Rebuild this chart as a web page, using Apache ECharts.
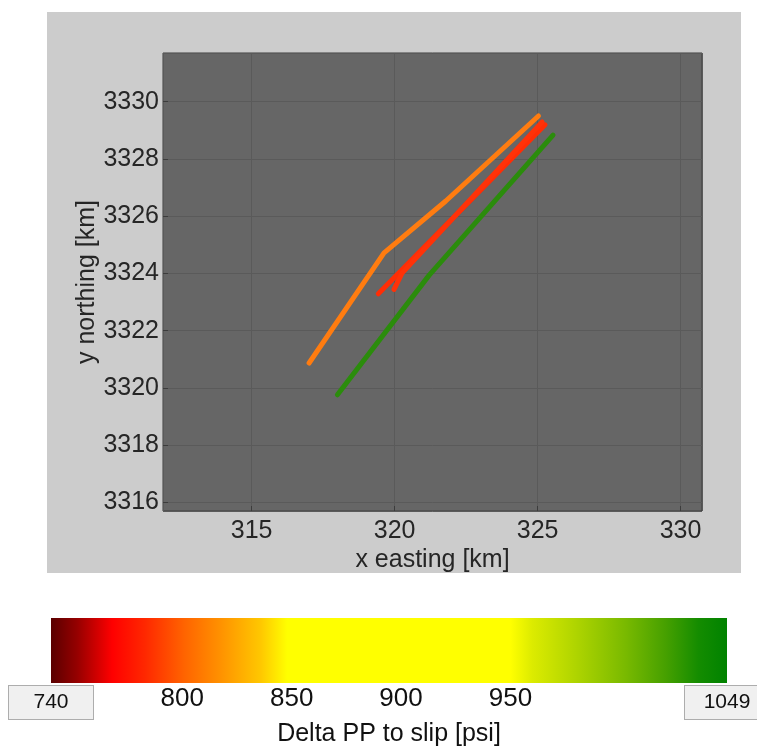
<!DOCTYPE html>
<html>
<head>
<meta charset="utf-8">
<script src="https://cdn.jsdelivr.net/npm/echarts@6/dist/echarts.min.js"></script>
<style>html,body{margin:0;padding:0;background:#fff}#c{width:757px;height:750px}</style>
</head>
<body>
<div id="c"></div>
<script>
// ---- data ----
const xRange = [311.9, 330.75];          // x easting [km]
const yRange = [3315.7, 3331.7];         // y northing [km]
const orangeFault = [[317.01, 3320.87], [319.63, 3324.72], [321.79, 3326.53], [325.03, 3329.50]];
const redFaultA   = [[319.43, 3323.29], [325.26, 3329.19]];
const redFaultB   = [[319.98, 3323.44], [320.26, 3324.01], [325.16, 3329.29]];
const greenFault  = [[318.00, 3319.76], [321.21, 3323.94], [325.54, 3328.83]];
const faultColors = ['#ff7c10', '#ff2d05', '#ff3208', '#2b8c0c'];

// colour bar
const cbarRange = [740, 1049];
const cbarTickLabels = [740, 800, 850, 900, 950, 1049];
const cmapValues = [740, 752, 768, 783, 801, 819, 836, 848, 950, 960, 982, 1003, 1021, 1036, 1049];
const cmapColors = ['#5a0000', '#960000', '#ff0000', '#ff2800', '#ff6400', '#ff9600', '#ffc800', '#ffff00',
                    '#ffff00', '#dceb00', '#aad200', '#78b900', '#46a000', '#148c00', '#008200'];

const FONT = 'Liberation Sans, Arial, sans-serif';
const TXT = '#262626';

const chart = echarts.init(document.getElementById('c'), null, {renderer: 'canvas'});

const stops = cmapValues.map((v, i) => ({
  offset: (v - cbarRange[0]) / (cbarRange[1] - cbarRange[0]),
  color: cmapColors[i]
}));

function faultSeries(data, color) {
  return {
    type: 'line', xAxisIndex: 0, yAxisIndex: 0, data: data,
    showSymbol: false, symbol: 'none', animation: false, silent: true,
    lineStyle: {color: color, width: 5, cap: 'round', join: 'round'}
  };
}

const option = {
  animation: false,
  backgroundColor: '#ffffff',
  textStyle: {fontFamily: FONT},
  graphic: [{
    type: 'rect', left: 47, top: 12, z: -100, silent: true,
    shape: {width: 694, height: 561},
    style: {fill: '#cccccc'}
  }],
  grid: [
    {left: 163, top: 53, width: 539, height: 458, show: true, outerBoundsMode: 'none', containLabel: false,
     backgroundColor: '#666666', borderColor: '#3c3c3c', borderWidth: 1},
    {left: 51, top: 618, width: 676, height: 65, show: false, outerBoundsMode: 'none', containLabel: false}
  ],
  xAxis: [
    {gridIndex: 0, type: 'value', min: xRange[0], max: xRange[1],
     splitNumber: 4, minInterval: 5, maxInterval: 5,
     name: 'x easting [km]', nameLocation: 'middle', nameGap: 37, nameMoveOverlap: false,
     nameTextStyle: {fontSize: 25, color: TXT, fontFamily: FONT},
     axisLine: {show: false},
     axisTick: {show: true, inside: true, length: 5, lineStyle: {color: '#3c3c3c'}},
     axisLabel: {fontSize: 25, color: TXT, margin: 8, fontFamily: FONT,
                 showMinLabel: false, showMaxLabel: false,
                 formatter: function (v) { return String(v); }},
     splitLine: {show: true, lineStyle: {color: '#5a5a5a', width: 1}}},
    {gridIndex: 1, type: 'value', min: cbarRange[0], max: cbarRange[1],
     name: 'Delta PP to slip [psi]', nameLocation: 'middle', nameGap: 39, nameMoveOverlap: false,
     nameTextStyle: {fontSize: 25, color: '#111', fontFamily: FONT},
     axisLine: {show: false}, axisTick: {show: false}, splitLine: {show: false},
     axisLabel: {
       customValues: cbarTickLabels, margin: 3, fontSize: 26, color: '#111', fontFamily: FONT,
       formatter: function (v) {
         return (v === cbarRange[0] || v === cbarRange[1]) ? '{box|' + v + '}' : String(v);
       },
       rich: {
         box: {backgroundColor: '#f0f0f0', borderColor: '#adadad', borderWidth: 1,
               width: 84, height: 33, lineHeight: 33, align: 'center',
               fontSize: 21, color: '#111', fontFamily: FONT}
       }
     }}
  ],
  yAxis: [
    {gridIndex: 0, type: 'value', min: yRange[0], max: yRange[1],
     splitNumber: 8, minInterval: 2, maxInterval: 2,
     name: 'y northing [km]', nameLocation: 'middle', nameGap: 63, nameRotate: 90, nameMoveOverlap: false,
     nameTextStyle: {fontSize: 25, color: TXT, fontFamily: FONT},
     axisLine: {show: false},
     axisTick: {show: true, inside: true, length: 5, lineStyle: {color: '#3c3c3c'}},
     axisLabel: {fontSize: 25, color: TXT, margin: 4, fontFamily: FONT,
                 showMinLabel: false, showMaxLabel: false,
                 formatter: function (v) { return String(v); }},
     splitLine: {show: true, lineStyle: {color: '#5a5a5a', width: 1}}},
    {gridIndex: 1, type: 'value', min: 0, max: 1, show: false}
  ],
  series: [
    faultSeries(orangeFault, faultColors[0]),
    faultSeries(redFaultA, faultColors[1]),
    faultSeries(redFaultB, faultColors[2]),
    faultSeries(greenFault, faultColors[3]),
    {
      type: 'custom', xAxisIndex: 1, yAxisIndex: 1, silent: true,
      data: [[cbarRange[0], cbarRange[1]]],
      encode: {x: [0, 1]},
      renderItem: function (params, api) {
        const p0 = api.coord([api.value(0), 1]);
        const p1 = api.coord([api.value(1), 0]);
        return {
          type: 'rect',
          shape: {x: p0[0], y: p0[1], width: p1[0] - p0[0], height: p1[1] - p0[1]},
          style: {fill: new echarts.graphic.LinearGradient(0, 0, 1, 0, stops)}
        };
      }
    }
  ]
};
chart.setOption(option);
</script>
</body>
</html>
